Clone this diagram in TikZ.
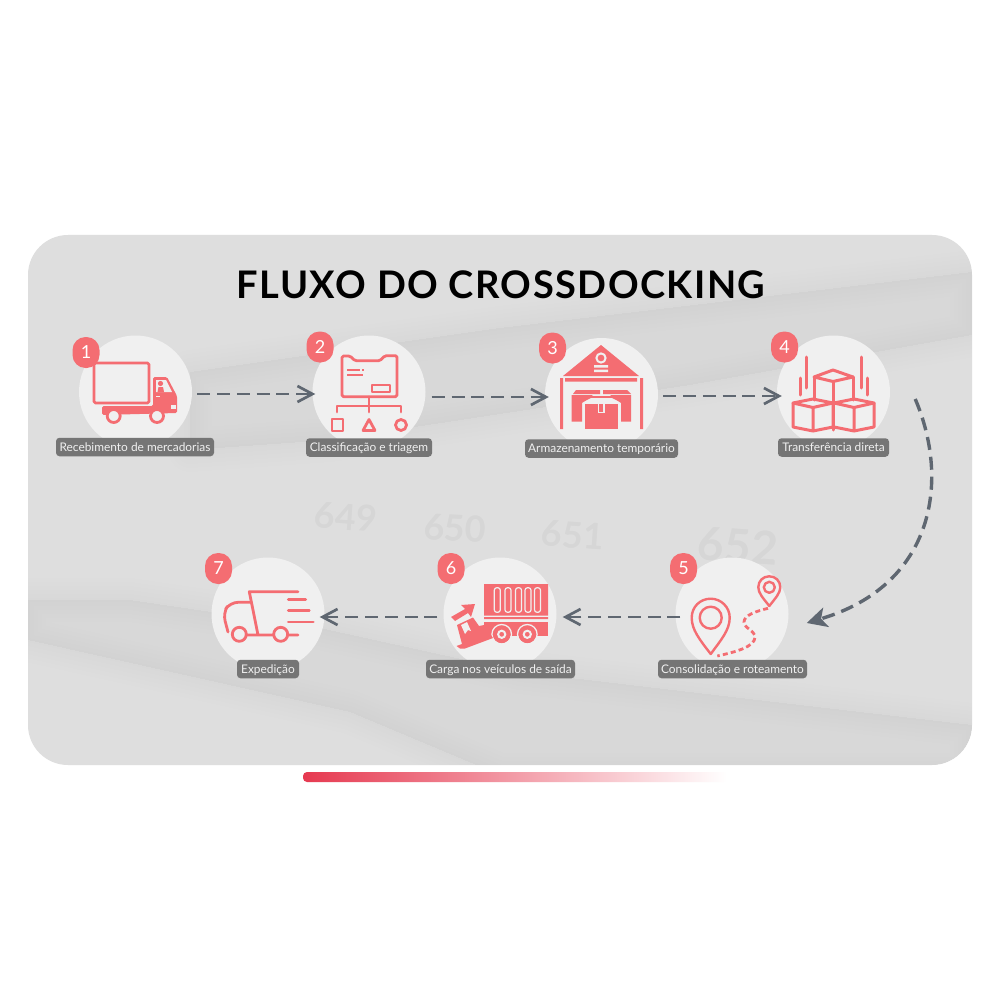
\documentclass[tikz,border=0pt]{standalone}
\usepackage{fontspec}
\setmainfont{Lato}
\usetikzlibrary{arrows.meta}
\definecolor{panelgray}{HTML}{DEDEDE}
\definecolor{discgray}{HTML}{F0F0F0}
\definecolor{tagdark}{HTML}{757575}
\definecolor{salmon}{HTML}{F46D72}
\definecolor{slategray}{HTML}{5F6771}
\definecolor{barred}{HTML}{E63950}
\tikzset{
  disc/.style={circle,fill=discgray,minimum size=113pt,inner sep=0pt},
  badge/.style={fill=salmon,text=white,rounded corners=13pt,minimum width=27pt,minimum height=31pt,inner sep=0pt,font=\fontsize{18}{20}\selectfont},
  tag/.style={fill=tagdark,text=discgray,rounded corners=3.5pt,minimum height=18.5pt,inner sep=0pt,text depth=0pt,anchor=center,font=\fontsize{11.9}{14}\selectfont},
  line/.style={draw=salmon,line width=2.8pt,line join=round,line cap=round},
  hollow/.style={draw=salmon,line width=2.8pt,fill=discgray},
  flow/.style={draw=slategray,line width=2.7pt,dash pattern=on 13pt off 6.8pt,-{Straight Barb[length=15pt,width=16pt,line width=2.7pt]}},
  ghost/.style={text=black,opacity=.035,font=\bfseries\fontsize{36}{40}\selectfont}
}
\newcommand{\softpatch}[1]{\foreach \w in {4,12,...,44}{\fill[black,opacity=.003,draw=black,line width=\w pt,line join=round] #1;}}
\begin{document}
\begin{tikzpicture}[x=1pt,y=-1pt]
  \useasboundingbox (0,0) rectangle (1000,1000);
  \fill[white] (0,0) rectangle (1000,1000);

  % panel and its blurred photo
  \fill[panelgray,rounded corners=40pt] (28,235) rectangle (972,765);
  \begin{scope}
    \clip[rounded corners=40pt] (28,235) rectangle (972,765);
    \softpatch{(190,372) -- (500,328) -- (972,272) -- (972,335) -- (690,385) -- (330,440) -- (190,450) -- cycle}
    \softpatch{(28,600) -- (130,600) -- (320,628) -- (520,672) -- (800,705) -- (972,725) -- (972,775) -- (500,775) -- (350,712) -- (28,640) -- cycle}
    \node[ghost,rotate=-4] (n649) at (346,517) {649};
    \node[ghost,rotate=-3] (n650) at (455,528) {650};
    \node[ghost,rotate=-4] (n651) at (573,535) {651};
    \node[ghost,rotate=-4,font=\bfseries\fontsize{46}{50}\selectfont] (n652) at (738,546) {652};
  \end{scope}

  \node[font=\bfseries\fontsize{38}{40}\selectfont\addfontfeature{LetterSpace=3.8},text=black] (title) at (501,285) {FLUXO DO CROSSDOCKING};

  % bar under the panel
  \shade[left color=barred,right color=white,rounded corners=4pt] (303,772) rectangle (727,782);

  % steps
  \node[disc] (recv) at (135.5,392) {};
  \node[disc] (sort) at (369,392) {};
  \node[disc] (store) at (601.5,394.5) {};
  \node[disc] (xfer) at (833.5,392) {};
  \node[disc] (route) at (732,614) {};
  \node[disc] (load) at (500,614) {};
  \node[disc] (exit) at (268,614) {};

  \node[tag,minimum width=158pt] (recvtag) at (135,447) {Recebimento de mercadorias};
  \node[tag,minimum width=126pt] (sorttag) at (369,447.5) {Classificação e triagem};
  \node[tag,minimum width=153pt] (storetag) at (601.5,448.5) {Armazenamento temporário};
  \node[tag,minimum width=111pt] (xfertag) at (833.5,447.5) {Transferência direta};
  \node[tag,minimum width=149pt] (routetag) at (732.5,669) {Consolidação e roteamento};
  \node[tag,minimum width=149pt] (loadtag) at (500.5,669) {Carga nos veículos de saída};
  \node[tag,minimum width=62pt] (exittag) at (268,669) {Expedição};

  \node[badge] (one) at (86,352.5) {1};
  \node[badge] (two) at (320,347) {2};
  \node[badge] (three) at (552.5,348) {3};
  \node[badge] (four) at (784.5,347) {4};
  \node[badge] (five) at (683.5,568.5) {5};
  \node[badge] (six) at (451,568.5) {6};
  \node[badge] (seven) at (218.5,568.5) {7};

  % arrows
  \draw[flow] ([xshift=5pt,yshift=-2pt]recv.east) -- ([xshift=3pt,yshift=-2pt]sort.west);
  \draw[flow] ([xshift=6pt,yshift=-5pt]sort.east) -- ([xshift=4pt,yshift=-2.5pt]store.west);
  \draw[flow] ([xshift=5pt,yshift=-1.5pt]store.east) -- ([xshift=5pt,yshift=-4pt]xfer.west);
  \draw[draw=slategray,line width=3.4pt,dash pattern=on 13pt off 7pt,-{Stealth[length=20pt,width=20pt,inset=5pt]}]
    ([xshift=25pt,yshift=-7pt]xfer.east) .. controls (950,480) and (935,585) .. ([xshift=18pt,yshift=-9pt]route.east);
  \draw[flow] ([xshift=5pt,yshift=-3pt]route.west) -- ([xshift=6pt,yshift=-3pt]load.east);
  \draw[flow] ([xshift=-6pt,yshift=-3pt]load.west) -- ([xshift=-5pt,yshift=-3pt]exit.east);

  % icon 1, truck
  \draw[line,rounded corners=1.5pt] (94,363) rectangle (149,403);
  \fill[salmon,rounded corners=1.5pt] (153,377) -- (167,377) -- (177,396) -- (177,413) -- (102,415) -- (102,406) -- (153,406) -- cycle;
  \fill[discgray] (156,380) -- (166,380) -- (172,392) -- (156,392) -- cycle;
  \fill[salmon] (160.5,383.5) circle (2.6);
  \fill[salmon] (157.5,392) -- (158.5,387) -- (163,387) -- (164,392) -- cycle;
  \fill[discgray] (156,396) rectangle (160,397);
  \fill[discgray] (171,405) rectangle (176,409);
  \draw[hollow] (113.7,416) circle (6.5);
  \draw[hollow] (157,416) circle (6.5);

  % icon 2, folder and tree
  \draw[line,rounded corners=1.5pt] (342,396.7) -- (342,356) -- (350,356) -- (355,360.7) -- (380,360.7) -- (385,355.7) -- (397,355.7) -- (397,396.7) -- cycle;
  \draw[line,line width=1.6pt,line cap=butt] (347,370) -- (360,370) (362,370) -- (364,370) (347,375) -- (363,375);
  \draw[line,line width=2pt] (372,385) rectangle (390,392);
  \draw[line] (369,397) -- (369,412) (337,412) -- (337,406) -- (401,406) -- (401,412);
  \draw[line] (332,419) rectangle (343,431);
  \draw[line] (369,419.5) -- (363,430.5) -- (375,430.5) -- cycle;
  \draw[line] (401,425) circle (5.5);

  % icon 3, warehouse
  \fill[salmon] (601,345) -- (639,376) -- (563,376) -- cycle;
  \draw[discgray,line width=2pt] (601,358) circle (4.6);
  \fill[discgray] (594,365) rectangle (608,367.5) (594,369.5) rectangle (608,372);
  \fill[salmon] (565,378) rectangle (637,381.5) (560,378) rectangle (563,429) (640,378) rectangle (643,429);
  \fill[salmon] (576,390) -- (600,390) -- (600,394) -- (573,394) -- cycle;
  \fill[salmon] (603,390) -- (627,390) -- (631,394) -- (603,394) -- cycle;
  \fill[salmon] (571.5,395) -- (593,395) -- (582,403) -- (582,421.7) -- (571.5,421.7) -- cycle;
  \fill[salmon] (631,395) -- (610,395) -- (621,403) -- (621,421.7) -- (631,421.7) -- cycle;
  \fill[salmon] (585,403.5) rectangle (618,429);
  \draw[salmon,line width=1.6pt] (583,401) -- (591,397) -- (612,397) -- (620,401);
  \draw[discgray,line width=1.3pt] (598.5,403.5) -- (598.5,412.5) -- (604,412.5) -- (604,403.5);

  % icon 4, boxes
  \begin{scope}[line width=3pt]
    \draw[line,line width=3pt] (814,377) -- (833,370) -- (853,377) -- (833,381.5) -- cycle;
    \draw[line,line width=3pt] (814,377) -- (814,400) (853,377) -- (853,400) (833,381.5) -- (833,430);
    \draw[line,line width=3pt] (793,403) -- (813,399) -- (833,403) -- (813,407.5) -- cycle;
    \draw[line,line width=3pt] (793,403) -- (793,427) -- (813,431) -- (833,427) -- (833,403) (813,407.5) -- (813,431);
    \draw[line,line width=3pt] (834,403) -- (854,399) -- (874,403) -- (854,407.5) -- cycle;
    \draw[line,line width=3pt] (834,427) -- (854,431) -- (874,427) -- (874,403) (854,407.5) -- (854,431);
    \draw[line,line width=3pt] (806,357) -- (806,388) (861,357) -- (861,388) (800,378) -- (800,395) (867,378) -- (867,395);
  \end{scope}

  % icon 5, pins and route
  \draw[line,line width=2.4pt] (710.7,654) .. controls (700,640) and (691.7,630) .. (691.7,617.7) .. controls (691.7,607) and (700,598.7) .. (710.7,598.7) .. controls (721,598.7) and (729.7,607) .. (729.7,617.7) .. controls (729.7,630) and (721,640) .. cycle;
  \draw[line,line width=2.4pt] (710.7,617.7) circle (11);
  \draw[line,line width=2.4pt] (769.3,606) .. controls (763,598) and (758.3,593) .. (758.3,587.3) .. controls (758.3,581) and (763,576.3) .. (769.3,576.3) .. controls (775.5,576.3) and (780.3,581) .. (780.3,587.3) .. controls (780.3,593) and (775.5,598) .. cycle;
  \draw[line,line width=2.4pt] (769.3,587.3) circle (5.5);
  \draw[line,line cap=butt,dash pattern=on 5pt off 3.2pt] (768,608.3) .. controls (757,611) and (744,615) .. (744,622) .. controls (744,628) and (755,631) .. (755,637) .. controls (755,647) and (735,652) .. (717.3,656);

  % icon 6, truck and ramp
  \fill[salmon] (484,584) rectangle (548,615.7) (484,617) rectangle (548,619);
  \fill[salmon] (484,621.7) -- (548,621.7) -- (548,636) -- (484,636) -- cycle;
  \foreach \slotx in {497.3,508,518.5,528,537.5}
    \draw[discgray,line width=1.2pt,rounded corners=2.5pt] (\slotx-3,587.7) rectangle (\slotx+3,612.3);
  \draw[salmon,fill=salmon,line width=1pt] (501.7,634.3) circle (8.5) (527.3,634.3) circle (8.5);
  \draw[discgray,line width=1.3pt] (501.7,634.3) circle (9.8) (527.3,634.3) circle (9.8);
  \draw[discgray,line width=2pt] (501.7,634.3) circle (3.6) (527.3,634.3) circle (3.6);
  \fill[salmon] (475,604) -- (461,605) -- (465,609) -- (451,617) -- (455,621) -- (468,613) -- (471,617) -- cycle;
  \fill[salmon] (456.5,646) -- (462,644) -- (457,625) -- (473,617.5) -- (479,626) -- (484,625) -- (493,638) -- (465,648.5) -- (460,648.5) -- cycle;
  \fill[discgray] (461,625) -- (467,622) -- (471,631) -- (468,630) -- (465,634) -- cycle;

  % icon 7, fast truck
  \draw[line] (298,591.7) -- (249.3,591.7) -- (258,635) (246,635) -- (273,635) (288,635) -- (298,635);
  \draw[line,rounded corners=8pt] (250.7,602.3) -- (230,602.3) -- (223,613) -- (228,632);
  \draw[line] (239.3,634.3) circle (7) (280.7,634.3) circle (7);
  \draw[line] (288.3,599.3) -- (305.7,599.3) (288.3,610.7) -- (309.3,610.7) (288.3,622) -- (313.3,622);
\end{tikzpicture}
\end{document}
